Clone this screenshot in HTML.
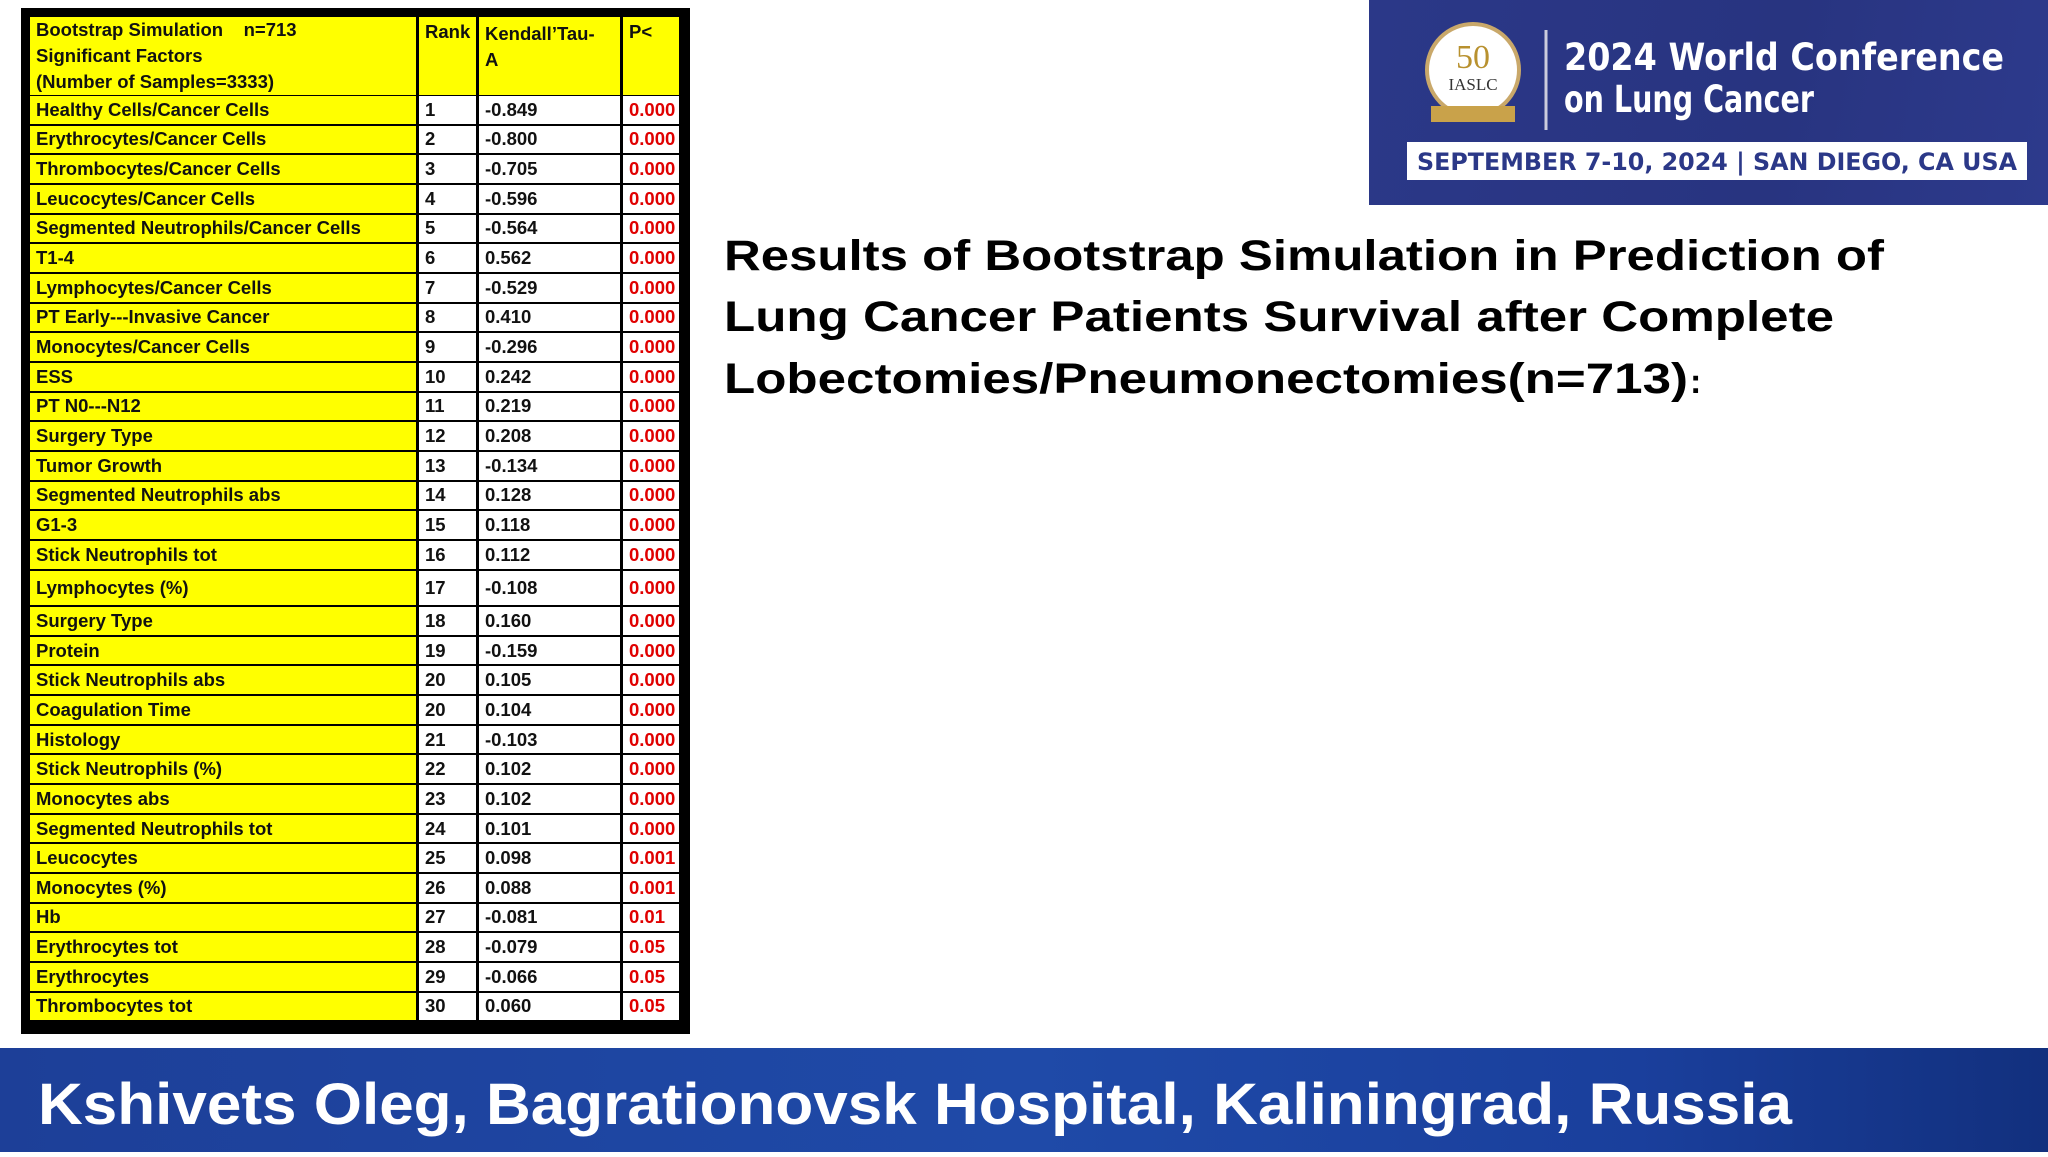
<!DOCTYPE html>
<html><head><meta charset="utf-8"><style>
body{margin:0;width:2048px;height:1152px;position:relative;background:#fff;overflow:hidden;font-family:"Liberation Sans",Arial,sans-serif}
#tbl{position:absolute;left:21px;top:8px;width:669px;height:1026px;background:#000}
.c{position:absolute;box-sizing:border-box;font-weight:bold;font-size:18.5px;color:#111;padding-left:6px;display:flex;align-items:center;white-space:nowrap;overflow:hidden}
.y{background:#ffff00}.w{background:#fff}.r{color:#e00000}
#logo{position:absolute;left:1369px;top:0;width:679px;height:205px;background:linear-gradient(100deg,#2b3888,#283480 60%,#2d3a8c)}
#banner{position:absolute;left:0;top:1048px;width:2048px;height:104px;background:linear-gradient(90deg,#1d3f98,#1f4aa8 50%,#1a3f9c 80%,#12307e)}
</style></head><body>
<div id="tbl"></div>

<svg style="position:absolute;left:0;top:0" width="2048" height="1152">
<g font-family="Liberation Sans,Arial,sans-serif" font-weight="bold" font-size="43" fill="#000">
<text x="724" y="270" textLength="1160" lengthAdjust="spacingAndGlyphs">Results of Bootstrap Simulation in Prediction of</text>
<text x="724" y="331" textLength="1110" lengthAdjust="spacingAndGlyphs">Lung Cancer Patients Survival after Complete</text>
<text x="724" y="393" textLength="964" lengthAdjust="spacingAndGlyphs">Lobectomies/Pneumonectomies(n=713)</text>
<text x="1690" y="393" font-size="34">:</text>
</g>
</svg>

<div id="logo">
<svg width="679" height="205">
<circle cx="104" cy="70" r="46" fill="#fff" stroke="#c9a86a" stroke-width="4"/>
<text x="104" y="68" text-anchor="middle" font-family="Liberation Serif,serif" font-size="34" fill="#b8912f">50</text>
<text x="104" y="90" text-anchor="middle" font-family="Liberation Serif,serif" font-size="17" fill="#333">IASLC</text>
<rect x="62" y="106" width="84" height="16" fill="#c9a24a"/>
<line x1="177" y1="30" x2="177" y2="130" stroke="#ccd" stroke-width="3"/>
<text x="195" y="70" font-family="DejaVu Sans,sans-serif" font-weight="bold" font-size="37" fill="#fff" textLength="440" lengthAdjust="spacingAndGlyphs">2024 World Conference</text>
<text x="195" y="112" font-family="DejaVu Sans,sans-serif" font-weight="bold" font-size="37" fill="#fff" textLength="250" lengthAdjust="spacingAndGlyphs">on Lung Cancer</text>
<rect x="38" y="142" width="620" height="38" fill="#fff"/>
<text x="48" y="170" font-family="DejaVu Sans,sans-serif" font-weight="bold" font-size="24" fill="#2b3888" textLength="600" lengthAdjust="spacingAndGlyphs">SEPTEMBER 7-10, 2024 | SAN DIEGO, CA USA</text>
</svg></div>

<div id="banner">
<svg width="2048" height="104"><text x="38" y="76" font-family="Liberation Sans,Arial,sans-serif" font-weight="bold" font-size="58" fill="#fff" textLength="1754" lengthAdjust="spacingAndGlyphs">Kshivets Oleg, Bagrationovsk Hospital, Kaliningrad, Russia</text></svg>
</div>

<script>
const factors=["Healthy Cells/Cancer Cells","Erythrocytes/Cancer Cells","Thrombocytes/Cancer Cells","Leucocytes/Cancer Cells","Segmented Neutrophils/Cancer Cells","T1-4","Lymphocytes/Cancer Cells","PT Early---Invasive Cancer","Monocytes/Cancer Cells","ESS","PT N0---N12","Surgery Type","Tumor Growth","Segmented Neutrophils abs","G1-3","Stick Neutrophils tot","Lymphocytes (%)","Surgery Type","Protein","Stick Neutrophils abs","Coagulation Time","Histology","Stick Neutrophils (%)","Monocytes abs","Segmented Neutrophils tot","Leucocytes","Monocytes (%)","Hb","Erythrocytes tot","Erythrocytes","Thrombocytes tot"];
const ranks=["1","2","3","4","5","6","7","8","9","10","11","12","13","14","15","16","17","18","19","20","20","21","22","23","24","25","26","27","28","29","30"];
const taus=["-0.849","-0.800","-0.705","-0.596","-0.564","0.562","-0.529","0.410","-0.296","0.242","0.219","0.208","-0.134","0.128","0.118","0.112","-0.108","0.160","-0.159","0.105","0.104","-0.103","0.102","0.102","0.101","0.098","0.088","-0.081","-0.079","-0.066","0.060"];
const pvals=["0.000","0.000","0.000","0.000","0.000","0.000","0.000","0.000","0.000","0.000","0.000","0.000","0.000","0.000","0.000","0.000","0.000","0.000","0.000","0.000","0.000","0.000","0.000","0.000","0.000","0.001","0.001","0.01","0.05","0.05","0.05"];
const t=document.getElementById('tbl');
const cols=[[8,388],[397,59],[457,143],[601,58]];
function cell(x,y,w,h,txt,cls,name){
  const d=document.createElement('div');
  d.className='c '+cls;
  d.style.left=(x+1)+'px';d.style.top=(y+1)+'px';d.style.width=(w-2)+'px';d.style.height=(h-2)+'px';
  d.innerHTML=txt;
  
  
  t.appendChild(d);
}
const hy=8,hh=80;
cell(cols[0][0],hy,cols[0][1],hh,'<div style="line-height:26px">Bootstrap Simulation &nbsp;&nbsp; n=713<br>Significant Factors<br>(Number of Samples=3333)</div>','y','header-factors');
cell(cols[1][0],hy,cols[1][1],hh,'<div style="align-self:flex-start;margin-top:4px">Rank</div>','y','header-rank');
cell(cols[2][0],hy,cols[2][1],hh,'<div style="align-self:flex-start;margin-top:4px;line-height:26px">Kendall\u2019Tau-<br>A</div>','y','header-tau');
cell(cols[3][0],hy,cols[3][1],hh,'<div style="align-self:flex-start;margin-top:4px">P&lt;</div>','y','header-p');
const P=29.66;
for(let i=0;i<factors.length;i++){
  let y,h;
  if(i<16){y=87+i*P;h=P;}
  else if(i===16){y=87+16*P;h=36.5;}
  else{y=87+16*P+36.5+(i-17)*P;h=P;}
  cell(cols[0][0],y,cols[0][1],h,factors[i],'y','factor-name');
  cell(cols[1][0],y,cols[1][1],h,ranks[i],'w','rank-value');
  cell(cols[2][0],y,cols[2][1],h,taus[i],'w','tau-value');
  cell(cols[3][0],y,cols[3][1],h,pvals[i],'w r','p-value');
}
</script>
</body></html>
